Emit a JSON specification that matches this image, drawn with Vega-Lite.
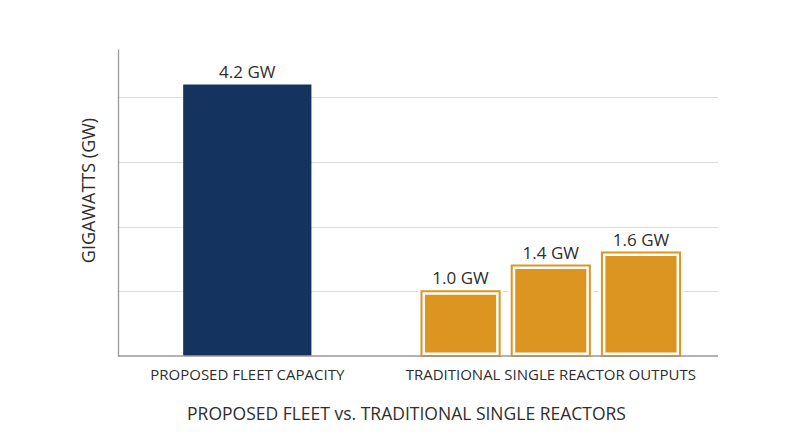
{
  "$schema": "https://vega.github.io/schema/vega-lite/v6.json",
  "width": 600,
  "height": 307,
  "autosize": {"type": "none"},
  "padding": {"left": 118, "top": 49, "right": 82, "bottom": 91},
  "config": {"view": {"stroke": null}, "font": "Open Sans"},
  "data": {
    "values": [
      {"group": "PROPOSED FLEET CAPACITY", "item": "Proposed fleet", "kind": "fleet", "gw": 4.2, "label": "4.2 GW"},
      {"group": "TRADITIONAL SINGLE REACTOR OUTPUTS", "item": "Reactor 1", "kind": "reactor", "gw": 1.0, "label": "1.0 GW"},
      {"group": "TRADITIONAL SINGLE REACTOR OUTPUTS", "item": "Reactor 2", "kind": "reactor", "gw": 1.4, "label": "1.4 GW"},
      {"group": "TRADITIONAL SINGLE REACTOR OUTPUTS", "item": "Reactor 3", "kind": "reactor", "gw": 1.6, "label": "1.6 GW"}
    ]
  },
  "layer": [
    {
      "encoding": {
        "x": {
          "field": "group",
          "type": "nominal",
          "scale": {
            "domain": ["PROPOSED FLEET CAPACITY", "TRADITIONAL SINGLE REACTOR OUTPUTS"],
            "paddingInner": 0.148,
            "paddingOuter": 0.0625,
            "align": 0
          },
          "title": "PROPOSED FLEET vs. TRADITIONAL SINGLE REACTORS",
          "axis": {
            "domain": false,
            "ticks": false,
            "labelAngle": 0,
            "labelLimit": 0,
            "labelFontSize": 15,
            "labelColor": "#2e2e2e",
            "labelPadding": 11,
            "titleFontSize": 17.5,
            "titleFontWeight": "normal",
            "titleColor": "#2e2e2e",
            "titlePadding": 23,
            "titleX": 288
          }
        },
        "y": {
          "field": "gw",
          "type": "quantitative",
          "scale": {"domain": [0, 4.75], "nice": false},
          "title": "GIGAWATTS (GW)",
          "axis": {
            "domain": true,
            "domainColor": "#9a9a9a",
            "domainWidth": 1.3,
            "ticks": false,
            "labels": false,
            "grid": true,
            "gridColor": "#dcdcdc",
            "values": [1, 2, 3, 4],
            "titleFontSize": 18,
            "titleFontWeight": "normal",
            "titleColor": "#2e2e2e",
            "titlePadding": 20,
            "titleY": 141
          }
        }
      },
      "layer": [
        {
          "transform": [{"filter": "datum.kind === 'fleet'"}],
          "mark": {"type": "bar", "color": "#15335f", "width": {"band": 0.496}}
        },
        {
          "transform": [{"filter": "datum.kind === 'reactor'"}],
          "mark": {"type": "bar", "fill": "#dc9521", "stroke": "white", "strokeWidth": 7, "y2Offset": 3.5},
          "encoding": {
            "xOffset": {"field": "item", "type": "nominal", "scale": {"paddingInner": 0.134, "paddingOuter": 0}}
          }
        },
        {
          "transform": [{"filter": "datum.kind === 'reactor'"}],
          "mark": {"type": "bar", "fill": null, "fillOpacity": 0, "stroke": "#dc9521", "strokeWidth": 2},
          "encoding": {
            "xOffset": {"field": "item", "type": "nominal"}
          }
        },
        {
          "transform": [{"filter": "datum.kind === 'fleet'"}],
          "mark": {"type": "text", "baseline": "alphabetic", "dy": -7, "fontSize": 17, "color": "#2e2e2e"},
          "encoding": {"text": {"field": "label"}}
        },
        {
          "transform": [{"filter": "datum.kind === 'reactor'"}],
          "mark": {"type": "text", "baseline": "alphabetic", "dy": -7, "fontSize": 17, "color": "#2e2e2e"},
          "encoding": {
            "xOffset": {"field": "item", "type": "nominal"},
            "text": {"field": "label"}
          }
        }
      ]
    },
    {
      "transform": [{"filter": "datum.kind === 'fleet'"}],
      "mark": {"type": "rule", "color": "#9a9a9a", "strokeWidth": 1.3},
      "encoding": {"y": {"datum": 0}}
    }
  ]
}
